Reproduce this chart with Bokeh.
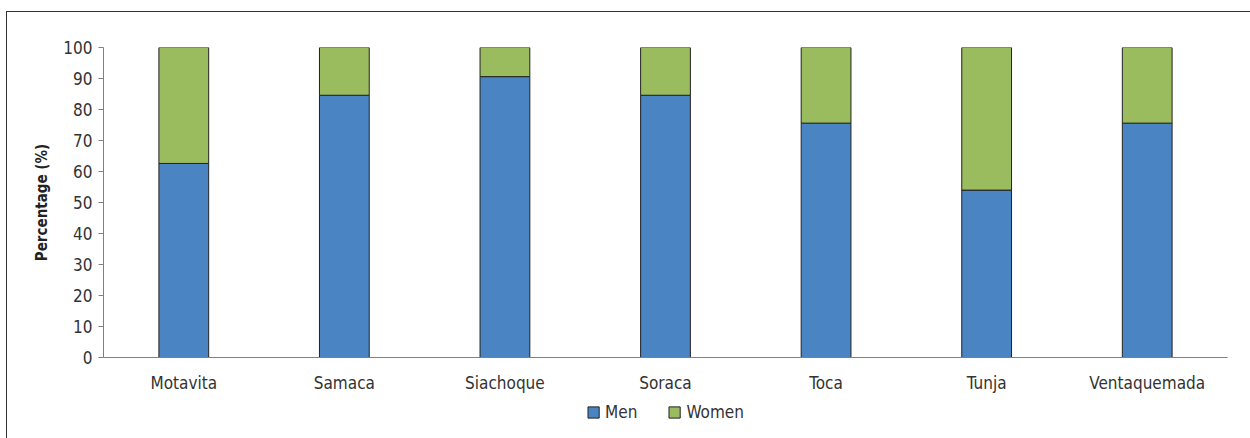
from bokeh.plotting import figure
from bokeh.models import ColumnDataSource, Legend, LegendItem, FixedTicker, Range1d
from bokeh.layouts import column
from bokeh.embed import file_html
from bokeh.resources import INLINE

municipalities = ["Motavita", "Samaca", "Siachoque", "Soraca", "Toca", "Tunja", "Ventaquemada"]
men = [62.6, 84.6, 90.6, 84.6, 75.6, 54.0, 75.6]
women = [round(100 - m, 1) for m in men]
y_ticks = [0, 10, 20, 30, 40, 50, 60, 70, 80, 90, 100]
series_names = ["Men", "Women"]
series_colors = ["#4A84C3", "#9BBB5F"]

FONT = "DejaVu Sans Condensed"

source = ColumnDataSource(dict(x=municipalities, men=men, women=women))

p = figure(x_range=municipalities, y_range=(0, 100), width=1243, height=383,
           output_backend="svg", toolbar_location=None,
           min_border_left=96, min_border_right=23, min_border_top=35, min_border_bottom=38)

p.vbar_stack(["men", "women"], x="x", width=0.31, source=source,
             color=series_colors, line_color="#222222", line_width=1)

p.outline_line_color = None
p.xgrid.grid_line_color = None
p.ygrid.grid_line_color = None
p.x_range.range_padding = 0

p.yaxis.ticker = FixedTicker(ticks=y_ticks)
p.yaxis.axis_label = "Percentage (%)"
p.yaxis.axis_label_text_font = FONT
p.yaxis.axis_label_text_font_style = "bold"
p.yaxis.axis_label_text_font_size = "15px"
p.yaxis.axis_label_text_color = "#222222"
p.yaxis.axis_label_standoff = 9
p.yaxis.major_label_text_font = FONT
p.yaxis.major_label_text_font_size = "17px"
p.yaxis.major_label_text_color = "#333333"
p.yaxis.major_tick_in = 0
p.yaxis.major_tick_out = 5
p.yaxis.minor_tick_line_color = None
p.yaxis.axis_line_color = "#808080"
p.yaxis.major_tick_line_color = "#808080"
p.yaxis.major_label_standoff = 6

p.xaxis.major_label_text_font = FONT
p.xaxis.major_label_text_font_size = "17px"
p.xaxis.major_label_text_color = "#333333"
p.xaxis.major_tick_line_color = None
p.xaxis.minor_tick_line_color = None
p.xaxis.axis_line_color = "#808080"
p.xaxis.major_label_standoff = 9

# legend strip below the chart (dummy renderers kept outside the visible range)
lf = figure(width=1243, height=43, output_backend="svg", toolbar_location=None,
            x_range=Range1d(0, 1), y_range=Range1d(0, 1),
            x_axis_location=None, y_axis_location=None,
            min_border_left=96, min_border_right=23, min_border_top=0, min_border_bottom=0)
lf.outline_line_color = None
lf.xgrid.grid_line_color = None
lf.ygrid.grid_line_color = None
items = []
for name, col in zip(series_names, series_colors):
    rr = lf.vbar(x=[-10], top=[-10], bottom=[-11], width=0.1, color=col,
                 line_color="#222222", line_width=1)
    items.append(LegendItem(label=name, renderers=[rr]))

legend = Legend(items=items, orientation="horizontal", location="top_center",
                label_text_font=FONT, label_text_font_size="17px", label_text_color="#333333",
                glyph_width=14, glyph_height=14, spacing=30, padding=2, margin=7,
                border_line_color=None, background_fill_alpha=0)
lf.add_layout(legend, "center")

layout = column(p, lf, spacing=0)
layout.margin = (11, 0, 0, 6)
layout.styles = {"border-top": "1px solid #333333", "border-left": "1px solid #333333"}

open("out.html", "w").write(file_html(layout, INLINE))
